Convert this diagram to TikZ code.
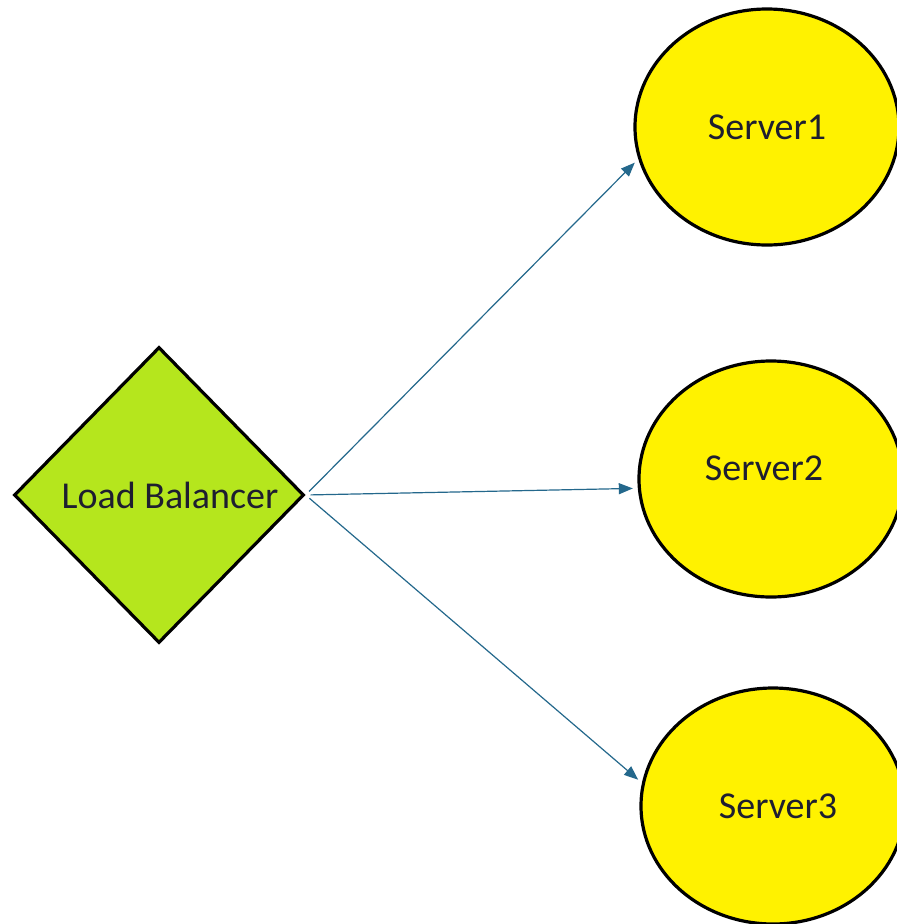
\documentclass[tikz,border=0pt]{standalone}
\usepackage{fontspec}
\setmainfont{Carlito}
\usepackage{xcolor}
\usetikzlibrary{shapes.geometric, arrows.meta}

\definecolor{lbgreen}{RGB}{181,230,29}
\definecolor{srvyellow}{RGB}{255,242,0}
\definecolor{arrblue}{RGB}{36,104,140}
\definecolor{txtdark}{RGB}{30,30,48}

\begin{document}
\begin{tikzpicture}[
  x=1pt, y=-1pt,
  balancer/.style={diamond, draw=black, fill=lbgreen, line width=3.2pt,
                   minimum width=290pt, minimum height=296pt, inner sep=0pt},
  server/.style={ellipse, draw=black, fill=srvyellow, line width=3.2pt,
                 minimum width=264pt, minimum height=236pt, inner sep=0pt,
                 font=\fontsize{38}{45}\selectfont, text=txtdark},
  lbl/.style={font=\fontsize{38}{45}\selectfont, text=txtdark},
  arr/.style={-{Triangle[length=14pt,width=11pt]}, draw=arrblue, line width=1.2pt,
              shorten <=5pt, shorten >=5pt}
]
  \useasboundingbox (0,0) rectangle (897,924);
  \fill[white] (0,0) rectangle (897,924);

  \node[balancer, label={[lbl, xshift=11pt]center:Load Balancer}] (lb) at (159,495) {};
  \node[server] (srv1) at (767,127) {Server1};
  \node[server, label={[lbl, xshift=-7pt, yshift=11pt]center:Server2}] (srv2) at (771,479) {};
  \node[server, label={[lbl, xshift=5pt]center:Server3}] (srv3) at (773,806) {};

  \draw[arr] (lb.east) -- (srv1.194);
  \draw[arr] (lb.east) -- (srv2.184);
  \draw[arr] (lb.east) -- (srv3.170);
\end{tikzpicture}
\end{document}
